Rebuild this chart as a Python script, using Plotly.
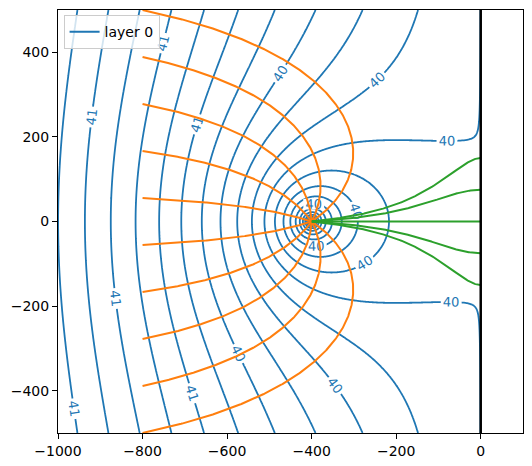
"""
Head contours and path lines for a well near a river (layer 0).
"""

import numpy as np
import plotly.graph_objects as go

# model values
river_head = 40.0
gradient = 0.001261       # regional head gradient, flow from left to right
well_x = -400.0
well_y = 0.0
well_coef = 0.307         # head change per ln(r) around the well
river_x = [0, 0]
river_y = [-500, 500]

# contour levels (labels rounded to whole metres)
level_start = 39.0005
level_end = 41.1005
level_step = 0.1

# path line start points
upstream_x = -800.0
upstream_y = [-500, -388.9, -277.8, -166.7, -55.6, 55.6, 166.7, 277.8, 388.9, 500]
river_start_x = -0.5
river_start_y = [-150, -75, 0, 75, 150]

blue = "#1f77b4"
orange = "#ff7f0e"
green = "#2ca02c"


def head(x, y):
    image_x = 2 * river_x[0] - well_x
    rw2 = np.maximum((x - well_x) ** 2 + (y - well_y) ** 2, 0.25)
    ri2 = (x - image_x) ** 2 + (y - well_y) ** 2
    return river_head - gradient * x + 0.5 * well_coef * np.log(rw2 / ri2)


def velocity(x, y):
    image_x = 2 * river_x[0] - well_x
    rw2 = max((x - well_x) ** 2 + (y - well_y) ** 2, 1e-6)
    ri2 = (x - image_x) ** 2 + (y - well_y) ** 2
    dhdx = -gradient + well_coef * ((x - well_x) / rw2 - (x - image_x) / ri2)
    dhdy = well_coef * ((y - well_y) / rw2 - (y - well_y) / ri2)
    vx, vy = -dhdx, -dhdy
    n = np.hypot(vx, vy)
    return vx / n, vy / n


def trace(x0, y0, max_steps=4000):
    xs, ys = [x0], [y0]
    x, y = x0, y0
    for _ in range(max_steps):
        r = np.hypot(x - well_x, y - well_y)
        if r < 0.5:
            break
        h = min(2.0, 0.3 * r)
        k1 = velocity(x, y)
        k2 = velocity(x + 0.5 * h * k1[0], y + 0.5 * h * k1[1])
        k3 = velocity(x + 0.5 * h * k2[0], y + 0.5 * h * k2[1])
        k4 = velocity(x + h * k3[0], y + h * k3[1])
        x += h / 6 * (k1[0] + 2 * k2[0] + 2 * k3[0] + k4[0])
        y += h / 6 * (k1[1] + 2 * k2[1] + 2 * k3[1] + k4[1])
        if x > 0:
            break
        xs.append(x)
        ys.append(y)
    return xs, ys


# grid, refined around the well and next to the river
xg = np.unique(np.concatenate([
    np.arange(-1000, 0.001, 4),
    np.arange(-460, -339, 1),
    np.arange(-12, 0.001, 1),
]))
yg = np.unique(np.concatenate([np.arange(-500, 500.001, 4), np.arange(-60, 61, 1)]))
X, Y = np.meshgrid(xg, yg)
Z = np.round(head(X, Y), 6)

fig = go.Figure()

fig.add_trace(
    go.Contour(
        x=xg,
        y=yg,
        z=Z.tolist(),
        contours=dict(
            start=level_start,
            end=level_end,
            size=level_step,
            coloring="lines",
            showlabels=True,
            labelformat=".0f",
            labelfont=dict(size=13, color=blue, family="DejaVu Sans"),
        ),
        colorscale=[[0, blue], [1, blue]],
        line=dict(width=1.8),
        showscale=False,
        hoverinfo="skip",
        showlegend=False,
    )
)

for y0 in upstream_y:
    tx, ty = trace(upstream_x, y0)
    fig.add_trace(
        go.Scatter(x=tx, y=ty, mode="lines", line=dict(color=orange, width=2), showlegend=False)
    )

for y0 in river_start_y:
    tx, ty = trace(river_start_x, y0)
    fig.add_trace(
        go.Scatter(x=tx, y=ty, mode="lines", line=dict(color=green, width=2), showlegend=False)
    )

# river
fig.add_trace(
    go.Scatter(x=river_x, y=river_y, mode="lines", line=dict(color="black", width=2.5), showlegend=False)
)

# legend entry
fig.add_trace(
    go.Scatter(x=[None], y=[None], mode="lines", line=dict(color=blue, width=2), name="layer 0")
)

axis_style = dict(
    showgrid=False,
    zeroline=False,
    showline=True,
    mirror=True,
    linecolor="black",
    linewidth=1,
    ticks="outside",
    ticklen=5,
    tickcolor="black",
    automargin=False,
    tickfont=dict(size=14),
)

# page body adds an 8 px offset, so the figure is 8 px smaller each way
fig.update_layout(
    width=524,
    height=458,
    margin=dict(l=50, r=9, t=2, b=33, autoexpand=False),
    plot_bgcolor="white",
    paper_bgcolor="white",
    font=dict(family="DejaVu Sans", size=14, color="black"),
    xaxis=dict(range=[-1000, 100], dtick=200, tick0=0, **axis_style),
    yaxis=dict(range=[-500, 500], dtick=200, tick0=0, **axis_style),
    legend=dict(
        x=0.012,
        y=0.988,
        xanchor="left",
        yanchor="top",
        bgcolor="rgba(255,255,255,0.8)",
        bordercolor="#cccccc",
        borderwidth=1,
        font=dict(size=14),
    ),
)

fig.write_html("out.html")
